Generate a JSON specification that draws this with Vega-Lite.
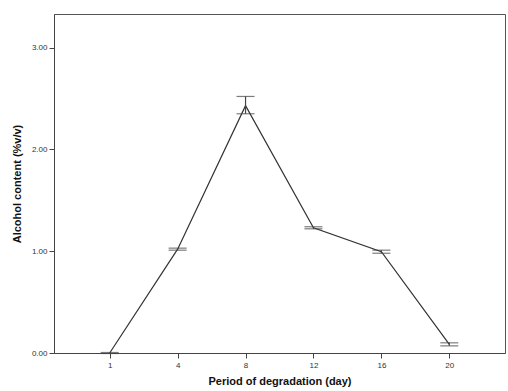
{
  "$schema": "https://vega.github.io/schema/vega-lite/v6.json",
  "width": 451,
  "height": 339,
  "autosize": {"type": "none"},
  "padding": {"left": 54, "top": 14, "right": 3, "bottom": 38},
  "background": "#ffffff",
  "config": {
    "view": {"stroke": "#555555", "strokeWidth": 1},
    "font": "Liberation Sans",
    "axis": {
      "grid": false,
      "domainColor": "#444444",
      "tickColor": "#444444",
      "tickSize": 5,
      "labelFont": "Liberation Sans",
      "labelFontSize": 8,
      "labelColor": "#333333",
      "titleFont": "Liberation Sans",
      "titleFontSize": 11,
      "titleFontWeight": "bold",
      "titleColor": "#111111"
    }
  },
  "data": {
    "values": [
      {"day": "1", "mean": 0.0, "lower": -0.005, "upper": 0.005},
      {"day": "4", "mean": 1.02, "lower": 1.01, "upper": 1.03},
      {"day": "8", "mean": 2.43, "lower": 2.35, "upper": 2.52},
      {"day": "12", "mean": 1.23, "lower": 1.22, "upper": 1.24},
      {"day": "16", "mean": 0.995, "lower": 0.98, "upper": 1.01},
      {"day": "20", "mean": 0.085, "lower": 0.07, "upper": 0.1}
    ]
  },
  "encoding": {
    "x": {
      "field": "day",
      "type": "ordinal",
      "sort": ["1", "4", "8", "12", "16", "20"],
      "scale": {"type": "point", "padding": 0.82},
      "axis": {"title": "Period of degradation (day)", "labelAngle": 0, "labelPadding": 3, "titlePadding": 6}
    }
  },
  "layer": [
    {
      "mark": {"type": "line", "color": "#333333", "strokeWidth": 1.2},
      "encoding": {
        "y": {
          "field": "mean",
          "type": "quantitative",
          "scale": {"domain": [0, 3.33], "nice": false, "zero": true},
          "axis": {"title": "Alcohol content (%v/v)", "values": [0, 1, 2, 3], "format": ".2f", "labelPadding": 2, "titlePadding": 9}
        }
      }
    },
    {
      "mark": {"type": "errorbar", "color": "#444444", "ticks": {"size": 18, "thickness": 1.2, "color": "#444444"}, "rule": {"strokeWidth": 1.2}},
      "encoding": {
        "y": {"field": "lower", "type": "quantitative", "title": "Alcohol content (%v/v)"},
        "y2": {"field": "upper"}
      }
    }
  ]
}
